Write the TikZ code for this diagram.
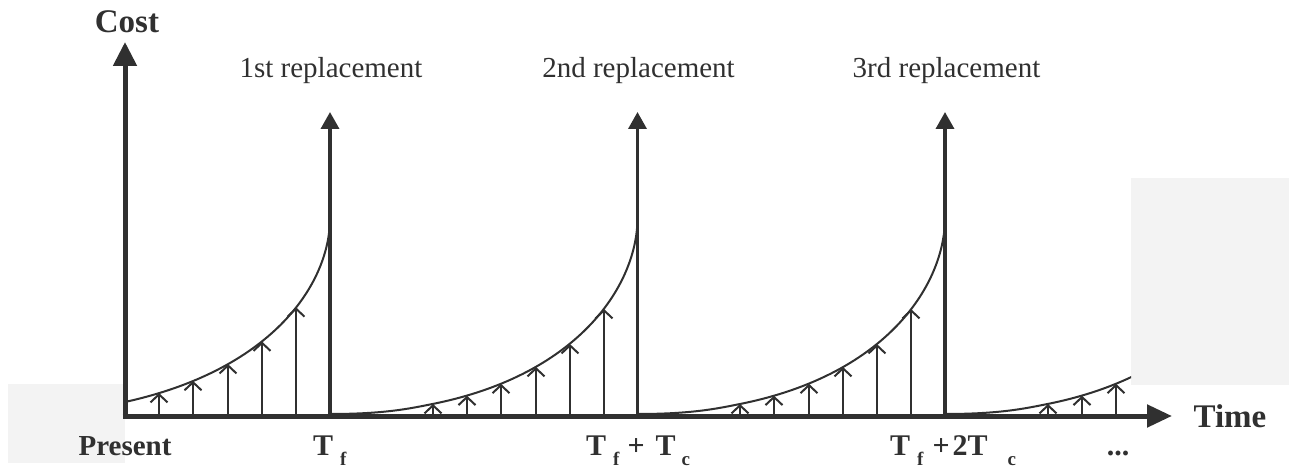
\documentclass[tikz,border=0pt]{standalone}
\usepackage{fontspec}
\setmainfont{Liberation Serif}
\usetikzlibrary{arrows.meta}
\definecolor{ink}{HTML}{303030}
\definecolor{patchgray}{HTML}{F3F3F3}
\newcommand\lowsub[1]{\raisebox{-10pt}{\fontsize{19}{19}\selectfont\bfseries #1}}
\begin{document}
\begin{tikzpicture}[x=1pt,y=-1pt,
  axis/.style={draw=ink, line width=5pt, -{Triangle[length=24pt,width=23pt]}},
  repl/.style={draw=ink, line width=3.5pt, -{Triangle[length=17pt,width=18pt]}},
  costarrow/.style={draw=ink, line width=2pt, -{Straight Barb[length=8pt,width=17pt]}},
  curve/.style={draw=ink, line width=2pt},
  lbl/.style={text=ink, inner sep=0pt, font=\fontsize{29}{29}\selectfont},
  blbl/.style={text=ink, inner sep=0pt, font=\fontsize{30}{30}\selectfont\bfseries},
  bigb/.style={text=ink, inner sep=0pt, font=\fontsize{33}{33}\selectfont\bfseries},
  patch/.style={fill=patchgray, draw=none}]
\useasboundingbox (0,0) rectangle (1291,470);
% background patches
\path[patch] (8,384) rectangle (125,463);
\path[patch] (1131,178) rectangle (1289,385);
% cost curves
\draw[curve] (125,402) .. controls (275,369) and (330,282) .. (330,218);
\foreach \s in {0,307.5}{
  \draw[curve] ({330+\s},414) .. controls ({385+\s},414) and ({410+\s},408.5) .. ({432.5+\s},404)
     .. controls ({582.5+\s},374) and ({637.5+\s},282) .. ({637.5+\s},218);
}
\begin{scope}
  \clip (900,0) rectangle (1131,470);
  \draw[curve] (945,414) .. controls (1000,414) and (1025,408.5) .. (1047.5,404)
     .. controls (1197.5,374) and (1252.5,282) .. (1252.5,218);
\end{scope}
% small cost arrows
\foreach \n/\x/\y in {a1/159/393.0, a2/193/380.9, a3/228/364.1, a4/262/341.5, a5/296/307.3,
  b0/433/404, b1/467/395.7, b2/501/383.8, b3/536/367.0, b4/570/344.1, b5/604/309.0,
  c0/740/404, c1/774/395.7, c2/809/383.8, c3/843/367.0, c4/877/344.1, c5/911/309.0,
  d0/1048/404, d1/1082/395.7, d2/1116/383.8}{
  \coordinate (\n base) at (\x,416);
  \coordinate (\n tip) at (\x,\y);
  \draw[costarrow] (\n base) -- (\n tip);
}
% replacement arrows
\foreach \k/\x in {1/330,2/637.5,3/945}{
  \coordinate (R\k base) at (\x,416);
  \coordinate (R\k tip) at (\x,112);
  \draw[repl] (R\k base) -- (R\k tip);
}
% axes
\coordinate (Ybase) at (125,418.5);
\coordinate (Ytip) at (125,42);
\coordinate (Xbase) at (122.5,416);
\coordinate (Xtip) at (1172,416);
\draw[axis] (Ybase) -- (Ytip);
\draw[axis, -{Triangle[length=25pt,width=22pt]}] (Xbase) -- (Xtip);
% labels
\node[bigb, anchor=base] (cost) at (127,33) {Cost};
\node[bigb, anchor=base] (time) at (1230,428) {Time};
\node[lbl, anchor=base] (r1) at (331,78) {1st replacement};
\node[lbl, anchor=base] (r2) at (638.5,78) {2nd replacement};
\node[lbl, anchor=base] (r3) at (946.5,78) {3rd replacement};
\node[blbl, font=\fontsize{29}{29}\selectfont\bfseries, anchor=base] (present) at (125,455) {Present};
\node[blbl, anchor=base west] (tf) at (313,455) {T\hspace{7pt}\lowsub{f}};
\node[blbl, anchor=base west] (tfc) at (586,455) {T\hspace{7pt}\lowsub{f}\hspace{8pt}+\hspace{11pt}T\hspace{6pt}\lowsub{c}};
\node[blbl, anchor=base west] (tf2c) at (890,455) {T\hspace{7pt}\lowsub{f}\hspace{9pt}+\hspace{3pt}2T\hspace{20pt}\lowsub{c}};
\node[blbl, anchor=base] (dots) at (1118,455) {...};
\end{tikzpicture}
\end{document}
